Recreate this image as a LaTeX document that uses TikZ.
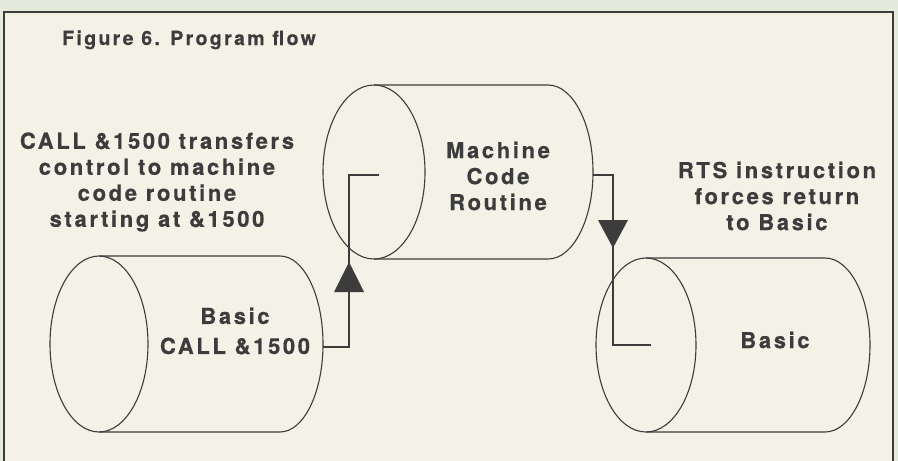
\documentclass[tikz,border=0pt]{standalone}
\usepackage{fontspec}
\setmainfont{TeX Gyre Heros}
\newfontfamily\lbl{TeX Gyre Heros}[LetterSpace=12, UprightFont=*-Bold, FakeBold=0.6]
\newfontfamily\ttl{TeX Gyre Heros}[LetterSpace=12, UprightFont=*-Bold, FakeBold=0.5]
\definecolor{paper}{HTML}{F4F1E6}
\definecolor{outer}{HTML}{E5EADD}
\definecolor{ink}{HTML}{3C3C3C}
\tikzset{
  cyl/.style={draw=ink, line width=1.1pt},
  wire/.style={draw=ink, line width=1.1pt},
  tri/.style={fill=ink},
  txt/.style={text=ink, inner sep=0pt, align=center,
    font=\lbl\fontsize{22}{26}\selectfont},
}
\begin{document}
\begin{tikzpicture}[x=1pt,y=-1pt]
\useasboundingbox (0,0) rectangle (898,461);
\fill[outer] (0,0) rectangle (898,461);
\fill[paper] (4,12) rectangle (893,470);
\draw[ink, line width=1.5pt] (4,470) -- (4,12) -- (893,12) -- (893,470);

% title
\node[txt, anchor=base west, font=\ttl\fontsize{19.5}{22}\selectfont] (title) at (62,45) {Figure 6. Program flow};

% left cylinder (Basic CALL &1500)
\draw[cyl] (99,344) ellipse [x radius=49, y radius=88];
\draw[cyl] (99,256) -- (280,256) arc[start angle=-90, end angle=90, x radius=43, y radius=88] -- (99,432);
\coordinate (lout) at (323,347);

% middle cylinder (Machine Code Routine)
\draw[cyl] (374,172) ellipse [x radius=51, y radius=87];
\draw[cyl] (374,85) -- (548,85) arc[start angle=-90, end angle=90, x radius=45, y radius=87] -- (374,259);
\coordinate (min) at (379,175);
\coordinate (mout) at (593,175);

% right cylinder (Basic)
\draw[cyl] (646,345) ellipse [x radius=50, y radius=87];
\draw[cyl] (646,258) -- (825,258) arc[start angle=-90, end angle=90, x radius=45, y radius=87] -- (646,432);
\coordinate (rin) at (651,345);

% connectors
\coordinate (k1) at (349,347);
\coordinate (k2) at (349,175);
\draw[wire] (lout) -- (k1) -- (k2) -- (min);
\coordinate (k3) at (613,175);
\coordinate (k4) at (613,345);
\draw[wire] (mout) -- (k3) -- (k4) -- (rin);

% arrowheads
\coordinate (a1) at (349,262);
\fill[tri] (a1) -- ++(15,30) -- ++(-30,0) -- cycle;
\coordinate (a2) at (613,248);
\fill[tri] (a2) -- ++(15,-28) -- ++(-30,0) -- cycle;

% texts
\node[txt] (calltxt) at (157,182) {CALL \&1500 transfers\\control to machine\\code routine\\starting at \&1500};
\node[txt] (basic1) at (235,331) {Basic\\[4pt]CALL \&1500};
\node[txt] (mcr) at (498,176) {Machine\\Code\\Routine};
\node[txt] (rts) at (777,196) {RTS instruction\\forces return\\to Basic};
\node[txt] (basic2) at (775,340) {Basic};
\end{tikzpicture}
\end{document}
